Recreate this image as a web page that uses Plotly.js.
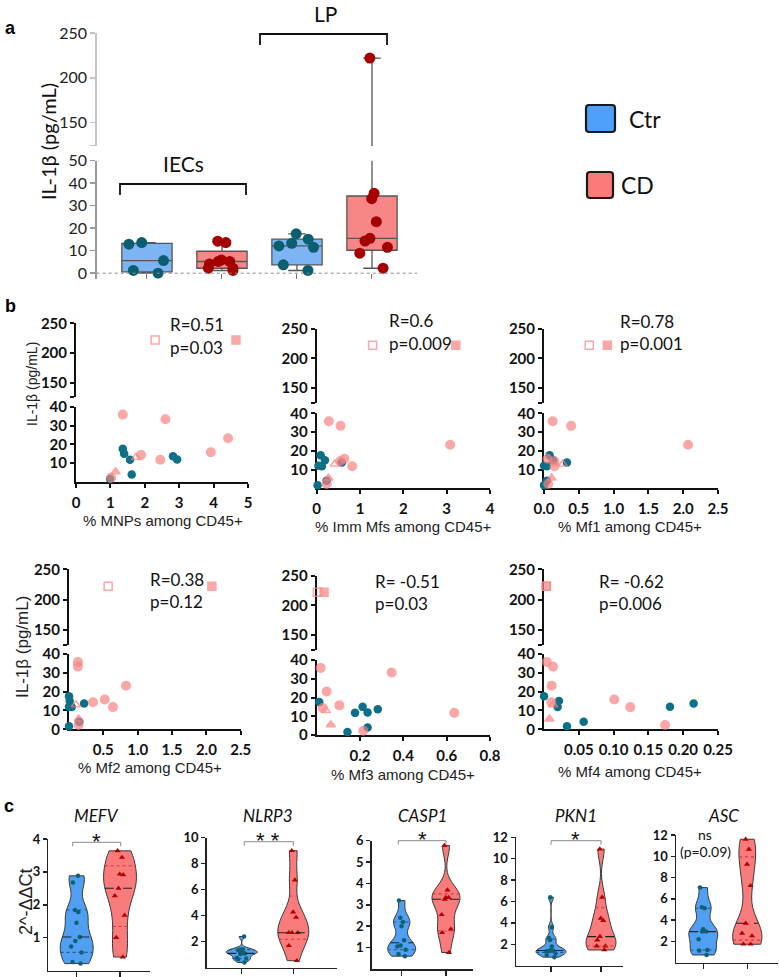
<!DOCTYPE html>
<html><head><meta charset="utf-8">
<script src="https://cdn.plot.ly/plotly-3.0.1.min.js"></script>
<style>html,body{margin:0;padding:0;background:#fff}#chart{width:779px;height:977px}</style>
</head><body><div id="chart"></div>
<script>
// ================= DATA =================
// Panel a : IL-1beta (pg/mL) per group
const boxCats = ['IECs Ctr', 'IECs CD', 'LP Ctr', 'LP CD'];
const iecCtr = [13.6, 12.9, 5.6, 0.0, 1.2];
const iecCD  = [14.2, 13.6, 5.9, 5.2, 4.1, 5.2, 2.2, 2.2, 1.2];
const lpCtr  = [17.5, 15.1, 13.3, 12.1, 11.5, 3.7, 1.2];
const lpCD   = [222, 35.5, 33.1, 22.9, 15.5, 14.3, 11.5, 8.9, 2.2];
const aLowTicks = [0, 10, 20, 30, 40, 50];
const aUpTicks = [124.6, 150, 200, 250];
const aUpTickText = ['', '150', '200', '250'];

// Panel b : IL-1beta vs % cell populations
const bY_Ctr = [17.6, 15.0, 13.7, 12.0, 11.8, 4.0, 1.6];
const bY_CD  = [35.8, 33.3, 23.2, 15.8, 14.4, 11.8, 2.3, 5.5, 13.0, 222, 222];
const bSym_CD = ['circle','circle','circle','circle','circle','circle','circle','triangle-up','triangle-up-open','square','square-open'];
const xMNPs_Ctr = [1.36, 1.40, 2.82, 2.94, 1.57, 1.62, 0.99];
const xMNPs_CD  = [1.36, 2.60, 4.42, 3.92, 1.89, 2.45, 1.02, 1.15, 1.74, 4.65, 2.30];
const xImm_Ctr  = [0.09, 0.19, 0.58, 0.04, 0.12, 0.23, 0.02];
const xImm_CD   = [0.28, 0.55, 3.08, 0.64, 0.54, 0.82, 0.23, 0.27, 0.42, 3.21, 1.29];
const xMf1_Ctr  = [0.08, 0.13, 0.33, 0.00, 0.04, 0.04, 0.00];
const xMf1_CD   = [0.125, 0.39, 2.07, 0.05, 0.15, 0.15, 0.06, 0.11, 0.27, 0.91, 0.65];
const xMf2_Ctr  = [0.00, 0.01, 0.22, 0.00, 0.04, 0.15, 0.00];
const xMf2_CD   = [0.13, 0.13, 0.83, 0.52, 0.35, 0.64, 0.14, 0.14, 0.10, 2.08, 0.57];
const xMf3_Ctr  = [0.012, 0.212, 0.282, 0.235, 0.177, 0.235, 0.142];
const xMf3_CD   = [0.018, 0.346, 0.046, 0.105, 0.028, 0.635, 0.215, 0.065, 0.043, 0.034, 0.003];
const xMf4_Ctr  = [0.000, 0.0215, 0.215, 0.181, 0.0196, 0.057, 0.033];
const xMf4_CD   = [0.004, 0.013, 0.011, 0.101, 0.0105, 0.124, 0.174, 0.0077, 0.013, 0.0035, 0.003];
const bXTitles = ['% MNPs among CD45+', '% Imm Mfs among CD45+', '% Mf1 among CD45+', '% Mf2 among CD45+', '% Mf3 among CD45+', '% Mf4 among CD45+'];
const bRtext = ['R=0.51', 'R=0.6', 'R=0.78', 'R=0.38', 'R= -0.51', 'R= -0.62'];
const bPtext = ['p=0.03', 'p=0.009', 'p=0.001', 'p=0.12', 'p=0.03', 'p=0.006'];
const bXRanges = [[0, 5], [0, 4], [0, 2.5], [0, 2.5], [0, 0.8], [0, 0.25]];
const bXTicks = [[0,1,2,3,4,5], [0,1,2,3,4], [0,0.5,1,1.5,2,2.5], [0.5,1,1.5,2,2.5], [0.2,0.4,0.6,0.8], [0.05,0.1,0.15,0.2,0.25]];
const bXFormats = ['d', 'd', '.1f', '.1f', '.1f', '.2f'];
const bLowTicksTop = [10, 20, 30, 40];
const bLowTicksBottom = [0, 10, 20, 30, 40];
const bUpTicks = [125.6, 150, 200, 250];
const bUpTickText = ['', '150', '200', '250'];

// Panel c : 2^-ddCt
const geneGroups = ['Ctr', 'CD'];
const genes = ['MEFV', 'NLRP3', 'CASP1', 'PKN1', 'ASC'];
const mefvCtr  = [2.88, 2.68, 1.84, 1.78, 1.45, 1.02, 0.90, 0.73, 0.55, 0.26, 0.21];
const mefvCD   = [3.64, 3.44, 2.93, 2.91, 2.50, 2.27, 1.68, 1.00, 0.41];
const nlrp3Ctr = [2.4, 1.4, 1.4, 1.35, 1.25, 1.15, 1.1, 1.1, 1.05, 0.75, 0.7, 0.65, 0.4];
const nlrp3CD  = [9.0, 6.74, 4.28, 3.87, 2.69, 2.69, 2.69, 1.69, 0.54];
const casp1Ctr = [3.2, 2.4, 2.2, 2.0, 1.35, 1.1, 1.05, 0.9, 0.7, 0.6];
const casp1CD  = [5.77, 3.69, 3.34, 3.34, 3.26, 2.54, 1.86, 1.70, 0.77];
const pkn1Ctr  = [6.4, 3.6, 2.6, 2.4, 1.8, 1.45, 1.4, 1.4, 1.35, 1.15, 1.0, 0.8];
const pkn1CD   = [10.9, 6.39, 4.43, 4.21, 2.72, 2.40, 1.84, 1.84, 1.47];
const ascCtr   = [7.05, 5.2, 5.1, 3.13, 2.91, 2.91, 2.19, 1.18, 1.12, 0.71];
const ascCD    = [11.6, 10.65, 9.24, 7.23, 3.69, 2.75, 2.5, 1.72, 1.72];
const cYRanges = [[0, 4], [0, 10], [0, 6], [0, 12], [0, 12]];
const cYTicks = [[1,2,3,4], [2,4,6,8,10], [1,2,3,4,5,6], [2,4,6,8,10,12], [2,4,6,8,10,12]];
const cSig = ['*', '* *', '*', '*', ''];

// ================= STYLE / GEOMETRY =================
const W = 779, H = 977;
const C = {
  aCtrFill: '#7db4f4', aCDFill: '#f98686', aCtrDot: '#0b5e6f', aCDDot: '#a50000',
  bCtr: '#0c7086', bCD: '#f98282',
  cCtrFill: '#519ff2', cCDFill: '#fa7b7b', cCtrDot: '#0e6174', cCDDot: '#b30000',
  legCtr: '#4ea0fb', legCD: '#fb7b7b'
};
const X = px => px / W;
const Y = px => 1 - px / H;
const layout = {
  width: W, height: H, margin: {l: 0, r: 0, t: 0, b: 0},
  paper_bgcolor: '#fff', plot_bgcolor: 'rgba(0,0,0,0)', showlegend: false,
  annotations: [], shapes: []
};
const traces = [];
function txt(t, xpx, ypx, o) {
  layout.annotations.push(Object.assign({text: t, x: X(xpx), y: Y(ypx), xref: 'paper', yref: 'paper',
    showarrow: false, xanchor: 'center', yanchor: 'middle',
    font: {family: 'Lato', size: 16, color: '#111'}}, o || {}));
}
function pathPx(pts, o) {
  const d = pts.map((p, i) => (i ? 'L' : 'M') + X(p[0]).toFixed(5) + ',' + Y(p[1]).toFixed(5)).join(' ');
  layout.shapes.push(Object.assign({type: 'path', xref: 'paper', yref: 'paper', path: d,
    line: {color: '#222', width: 1.5}}, o || {}));
}
function roundRect(x0, y0, x1, y1, r, fill) {
  const f = (a, b) => X(a).toFixed(5) + ',' + Y(b).toFixed(5);
  const d = 'M' + f(x0 + r, y0) + ' L' + f(x1 - r, y0) + ' Q' + f(x1, y0) + ' ' + f(x1, y0 + r) +
    ' L' + f(x1, y1 - r) + ' Q' + f(x1, y1) + ' ' + f(x1 - r, y1) + ' L' + f(x0 + r, y1) +
    ' Q' + f(x0, y1) + ' ' + f(x0, y1 - r) + ' L' + f(x0, y0 + r) + ' Q' + f(x0, y0) + ' ' + f(x0 + r, y0) + ' Z';
  layout.shapes.push({type: 'path', xref: 'paper', yref: 'paper', path: d, fillcolor: fill, line: {color: '#1a1a1a', width: 2.2}});
}
function med(s) { const n = s.length; return n % 2 ? s[(n - 1) / 2] : (s[n / 2 - 1] + s[n / 2]) / 2; }
function quarts(a) {
  const s = a.slice().sort((p, q) => p - q), n = s.length;
  return [med(s.slice(0, Math.floor(n / 2))), med(s), med(s.slice(Math.ceil(n / 2)))];
}

// ================= PANEL A =================
const aTickFont = {family: 'Lato', size: 16, color: '#222'};
layout.xaxis = {domain: [X(96.7), X(417)], range: [-0.67, 3.6], type: 'category', categoryorder: 'array',
  categoryarray: boxCats, anchor: 'y', showline: false, showgrid: false, zeroline: false,
  ticks: 'inside', ticklen: 5, tickwidth: 1, tickcolor: '#777', showticklabels: false};
const aY = {anchor: 'x', showline: true, linecolor: '#9a9a9a', linewidth: 1.5, ticks: 'outside', ticklen: 5,
  tickcolor: '#9a9a9a', tickwidth: 1.5, tickfont: aTickFont, showgrid: false, zeroline: false};
layout.yaxis = Object.assign({}, aY, {domain: [Y(278.8), Y(160.7)], range: [-2.5, 50], tickvals: aLowTicks});
layout.yaxis2 = Object.assign({}, aY, {domain: [Y(146), Y(33)], range: [124, 250], tickvals: aUpTicks,
  ticktext: aUpTickText, linecolor: '#c4c4c4', tickcolor: '#c4c4c4'});
layout.shapes.push({type: 'line', xref: 'x domain', yref: 'y', x0: 0, x1: 1, y0: 0, y1: 0,
  line: {color: '#8a8a8a', width: 1, dash: 'dot'}});
const aSets = [[iecCtr, 0, 'ctr'], [iecCD, 1, 'cd'], [lpCtr, 2, 'ctr'], [lpCD, 3, 'cd']];
['y', 'y2'].forEach(ya => {
  aSets.forEach(([vals, ci, g]) => {
    const q = quarts(vals);
    // box: quartiles (GraphPad style), whiskers min to max
    traces.push({type: 'box', x: [boxCats[ci]], q1: [q[0]], median: [q[1]], q3: [q[2]],
      lowerfence: [Math.min(...vals)], upperfence: [Math.max(...vals)], xaxis: 'x', yaxis: ya,
      boxpoints: false, width: 0.67, whiskerwidth: 0.35,
      fillcolor: g === 'ctr' ? C.aCtrFill : C.aCDFill, line: {color: '#555', width: 1.3}, hoverinfo: 'skip'});
    // individual points
    traces.push({type: 'box', x: vals.map(() => boxCats[ci]), y: vals, xaxis: 'x', yaxis: ya,
      boxpoints: 'all', jitter: 0.85, pointpos: 0, width: 0.67, whiskerwidth: 0,
      fillcolor: 'rgba(0,0,0,0)', line: {color: 'rgba(0,0,0,0)', width: 0},
      marker: {color: g === 'ctr' ? C.aCtrDot : C.aCDDot, size: 11, line: {width: 0}}, hoverinfo: 'skip'});
  });
});
txt('<b>a</b>', 10, 28, {font: {family: 'Liberation Sans', size: 18, color: '#000'}});
txt('IL-1β (pg/mL)', 48, 142, {textangle: -90, font: {family: 'Lato', size: 20, color: '#111'}});
txt('IECs', 183, 163, {font: {family: 'Lato', size: 21, color: '#111'}});
txt('LP', 325, 13, {font: {family: 'Lato', size: 21, color: '#111'}});
pathPx([[120, 195], [120, 184], [246, 184], [246, 195]], {line: {color: '#111', width: 1.8}});
pathPx([[260, 45], [260, 34], [387, 34], [387, 45]], {line: {color: '#111', width: 1.8}});
roundRect(586, 105, 615, 132, 3, C.legCtr);
roundRect(587, 172, 613, 198, 3, C.legCD);
txt('Ctr', 627, 119, {xanchor: 'left', font: {family: 'Lato', size: 23, color: '#111'}});
txt('CD', 619, 185, {xanchor: 'left', font: {family: 'Lato', size: 23, color: '#111'}});

// ================= PANEL B =================
const bXs = [[xMNPs_Ctr, xMNPs_CD], [xImm_Ctr, xImm_CD], [xMf1_Ctr, xMf1_CD], [xMf2_Ctr, xMf2_CD], [xMf3_Ctr, xMf3_CD], [xMf4_Ctr, xMf4_CD]];
const GB = [
  {xl: 76, xr: 248, ut: 323.3, ub: 397.3, lt: 406.7, lb: 482, xtx: 163, xty: 520, rx: 168, ry: 325, py: 347},
  {xl: 316.7, xr: 490, ut: 328.5, ub: 403, lt: 413.3, lb: 488.3, xtx: 403, xty: 526.7, rx: 387, ry: 320, py: 343},
  {xl: 544, xr: 718, ut: 328.5, ub: 403, lt: 413.3, lb: 488.3, xtx: 630, xty: 526, rx: 618, ry: 321, py: 343},
  {xl: 69, xr: 240.7, ut: 569.3, ub: 645, lt: 654, lb: 729.3, xtx: 150, xty: 767, rx: 148, ry: 579, py: 601},
  {xl: 316.7, xr: 490, ut: 575.7, ub: 650, lt: 660, lb: 735, xtx: 403, xty: 774, rx: 373, ry: 581, py: 603},
  {xl: 544, xr: 718, ut: 569.3, ub: 645, lt: 654, lb: 729.3, xtx: 630, xty: 771, rx: 597, ry: 581, py: 603}
];
const bTickFont = {family: 'Lato', size: 15, weight: 700, color: '#111'};
const bAxis = {showline: true, linecolor: '#111', linewidth: 2, ticks: 'outside', ticklen: 4, tickwidth: 2,
  tickcolor: '#111', tickfont: bTickFont, showgrid: false, zeroline: false, layer: 'below traces'};
GB.forEach((g, k) => {
  const xi = 2 + k, yl = 3 + 2 * k, yu = 4 + 2 * k;
  layout['xaxis' + xi] = Object.assign({}, bAxis, {domain: [X(g.xl), X(g.xr)], range: bXRanges[k], anchor: 'y' + yl,
    tickvals: bXTicks[k], tickformat: bXFormats[k], ticklabelstandoff: 2});
  layout['yaxis' + yl] = Object.assign({}, bAxis, {domain: [Y(g.lb), Y(g.lt)], range: [0, 40], anchor: 'x' + xi,
    tickvals: k < 3 ? bLowTicksTop : bLowTicksBottom});
  layout['yaxis' + yu] = Object.assign({}, bAxis, {domain: [Y(g.ub), Y(g.ut)], range: [125, 250], anchor: 'x' + xi,
    tickvals: bUpTicks, ticktext: bUpTickText});
  const [xc, xd] = bXs[k];
  [[yl, v => v < 100], [yu, v => v >= 100]].forEach(([ya, keep]) => {
    const ic = bY_Ctr.map((v, i) => i).filter(i => keep(bY_Ctr[i]));
    const id = bY_CD.map((v, i) => i).filter(i => keep(bY_CD[i]));
    if (ic.length) traces.push({type: 'scatter', mode: 'markers', x: ic.map(i => xc[i]), y: ic.map(i => bY_Ctr[i]),
      xaxis: 'x' + xi, yaxis: 'y' + ya, cliponaxis: false, hoverinfo: 'skip',
      marker: {color: C.bCtr, size: 8.5, line: {width: 0}}});
    if (id.length) traces.push({type: 'scatter', mode: 'markers', x: id.map(i => xd[i]), y: id.map(i => bY_CD[i]),
      xaxis: 'x' + xi, yaxis: 'y' + ya, cliponaxis: false, hoverinfo: 'skip',
      marker: {color: C.bCD, size: id.map(i => bSym_CD[i].startsWith('circle') ? 8.5 : 8),
        symbol: id.map(i => bSym_CD[i]), line: {color: C.bCD, width: 1.5}}});
  });
  txt(bXTitles[k], g.xtx, g.xty, {font: {family: 'Liberation Sans', size: 15, color: '#222'}});
  txt(bRtext[k], g.rx, g.ry, {xanchor: 'left', font: {family: 'Lato', size: 17, color: '#111'}});
  txt(bPtext[k], g.rx, g.py, {xanchor: 'left', font: {family: 'Lato', size: 17, color: '#111'}});
});
txt('<b>b</b>', 10, 306, {font: {family: 'Liberation Sans', size: 18, color: '#000'}});
txt('IL-1β (pg/mL)', 32, 384, {textangle: -90, font: {family: 'Liberation Sans', size: 14, color: '#222'}});
txt('IL-1β (pg/mL)', 22, 647, {textangle: -90, font: {family: 'Liberation Sans', size: 17, color: '#222'}});

// ================= PANEL C =================
const cData = [[mefvCtr, mefvCD], [nlrp3Ctr, nlrp3CD], [casp1Ctr, casp1CD], [pkn1Ctr, pkn1CD], [ascCtr, ascCD]];
const GC = [
  {xl: 48.3, xr: 150, yt: 839, yb: 970.5, c0: 76.7, c1: 120, w: 0.76, tx: 96.7, bx0: 72.7, bx1: 120.7, by: 842.3},
  {xl: 206.7, xr: 337, yt: 837.7, yb: 967.7, c0: 241.7, c1: 293.3, w: 0.6, tx: 268, bx0: 244.3, bx1: 293.3, by: 841.7},
  {xl: 371.7, xr: 473, yt: 840.7, yb: 969, c0: 401.7, c1: 446, w: 0.63, tx: 422, bx0: 398.3, bx1: 446, by: 840.7},
  {xl: 516, xr: 623, yt: 837.3, yb: 965.7, c0: 551, c1: 601, w: 0.6, tx: 575.5, bx0: 551, bx1: 601, by: 840.7},
  {xl: 676, xr: 778, yt: 835, yb: 962.5, c0: 703.3, c1: 747.3, w: 0.66, tx: 723.3, bx0: 0, bx1: 0, by: 0}
];
const BW_FACTOR = 0.55;
function sdev(a) { const m = a.reduce((p, q) => p + q, 0) / a.length; return Math.sqrt(a.reduce((p, q) => p + (q - m) * (q - m), 0) / (a.length - 1)); }
function bwFor(a) { const q = quarts(a); return BW_FACTOR * 1.059 * Math.min(sdev(a), (q[2] - q[0]) / 1.349) * Math.pow(a.length, -0.2); }
function kdeFn(a, bw) { const f = 1 / (a.length * bw * Math.sqrt(2 * Math.PI)); return x => f * a.reduce((s, v) => s + Math.exp(-0.5 * Math.pow((x - v) / bw, 2)), 0); }
const cTick = {family: 'Lato', size: 13, weight: 700, color: '#111'};
GC.forEach((g, j) => {
  const xi = 8 + j, yi = 15 + j;
  const unit = g.c1 - g.c0;
  layout['xaxis' + xi] = {domain: [X(g.xl), X(g.xr)], range: [-(g.c0 - g.xl) / unit, 1 + (g.xr - g.c1) / unit],
    anchor: 'y' + yi, tickvals: [0, 1], showticklabels: false, showline: true, linecolor: '#222', linewidth: 1.5,
    ticks: 'outside', ticklen: 5, tickwidth: 1.5, tickcolor: '#222', showgrid: false, zeroline: false};
  layout['yaxis' + yi] = {domain: [Y(g.yb), Y(g.yt)], range: cYRanges[j], anchor: 'x' + xi, tickvals: cYTicks[j],
    showline: true, linecolor: '#222', linewidth: 1.5, ticks: 'outside', ticklen: 4, tickwidth: 1.5, tickcolor: '#222',
    tickfont: cTick, showgrid: false, zeroline: false};
  cData[j].forEach((vals, gi) => {
    const isCtr = geneGroups[gi] === 'Ctr';
    const bw = bwFor(vals);
    traces.push({type: 'violin', x: vals.map(() => gi), y: vals, xaxis: 'x' + xi, yaxis: 'y' + yi,
      points: 'all', pointpos: 0, jitter: 0.45, spanmode: 'hard', bandwidth: bw, width: g.w, scalemode: 'width',
      fillcolor: isCtr ? C.cCtrFill : C.cCDFill, line: {color: '#3a3a3a', width: 1},
      box: {visible: false}, meanline: {visible: false}, hoverinfo: 'skip',
      marker: {symbol: isCtr ? 'circle' : 'triangle-up', size: isCtr ? 4.5 : 5.5, color: isCtr ? C.cCtrDot : C.cCDDot, line: {width: 0}}});
    // quartile lines from the data's KDE (same as violin outline)
    const kd = kdeFn(vals, bw);
    const mn = Math.min(...vals), mx = Math.max(...vals);
    const nStep = Math.ceil((mx - mn) / (bw / 3));
    let maxK = 0;
    for (let s = 0; s <= nStep; s++) maxK = Math.max(maxK, kd(mn + s * (mx - mn) / nStep));
    const q = quarts(vals);
    q.forEach((qv, qi) => {
      const hw = (g.w / 2) * kd(qv) / maxK;
      traces.push({type: 'scatter', mode: 'lines', x: [gi - hw, gi + hw], y: [qv, qv], xaxis: 'x' + xi, yaxis: 'y' + yi,
        hoverinfo: 'skip', line: qi === 1 ? {color: '#222', width: 1.1, dash: 'dash'} :
          {color: isCtr ? '#1d5c7a' : '#d43a3a', width: 1.1, dash: 'dot'}});
    });
  });
  txt('<i>' + genes[j] + '</i>', g.tx, 815.5, {font: {family: 'Lato', size: 17, color: '#111'}});
  if (cSig[j]) {
    pathPx([[g.bx0, g.by + 4], [g.bx0, g.by], [g.bx1, g.by], [g.bx1, g.by + 4]], {line: {color: '#8a8a8a', width: 1}});
    txt(cSig[j], g.tx, g.by - 1, {font: {family: 'Liberation Sans', size: 22, color: '#111'}});
  }
});
txt('ns', 705, 834, {font: {family: 'Lato', size: 14, color: '#111'}});
txt('(p=0.09)', 705, 851.5, {font: {family: 'Lato', size: 14, color: '#111'}});
txt('<b>c</b>', 9, 806, {font: {family: 'Liberation Sans', size: 18, color: '#000'}});
txt('2^-ΔΔCt', 26, 902, {textangle: -90, font: {family: 'Liberation Sans', size: 18, color: '#222'}});

Plotly.newPlot('chart', traces, layout, {displayModeBar: false, staticPlot: true});
</script>
</body></html>
